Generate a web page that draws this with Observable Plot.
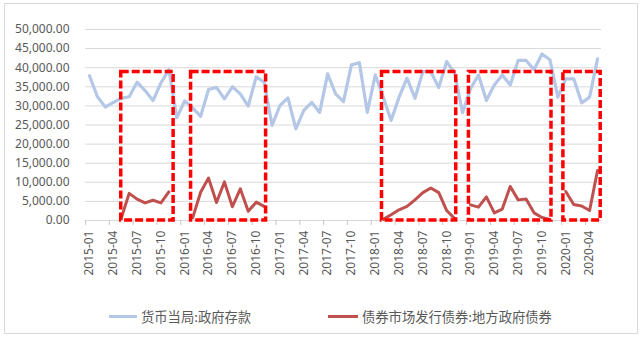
<!DOCTYPE html>
<html><head><meta charset="utf-8">
<script src="https://cdn.jsdelivr.net/npm/d3@7"></script>
<script src="https://cdn.jsdelivr.net/npm/@observablehq/plot@0.6"></script>
<style>
body{margin:0;background:#fff;}
#wrap{position:relative;width:643px;height:337px;overflow:hidden;background:#fff;}
#frame{position:absolute;left:4px;top:3px;width:634px;height:331px;border:1px solid #d9d9d9;box-sizing:border-box;}
#chart{position:absolute;left:0;top:0;}
.leg{position:absolute;top:306px;height:20px;display:flex;align-items:center;font-family:"Noto Sans CJK SC",sans-serif;font-size:13.3px;color:#595959;white-space:nowrap;}
.leg .sw{display:inline-block;height:3px;margin-right:4px;}
</style></head>
<body>
<div id="wrap">
  <div id="frame"></div>
  <div id="chart"></div>
  <div class="leg" style="left:109px"><span class="sw" style="width:28px;background:#b4c7e7"></span>货币当局:政府存款</div>
  <div class="leg" style="left:328px"><span class="sw" style="width:30px;background:#c0504d"></span>债券市场发行债券:地方政府债券</div>
</div>
<script>
const months = [
"2015-01","2015-02","2015-03","2015-04","2015-05","2015-06","2015-07","2015-08","2015-09","2015-10","2015-11","2015-12",
"2016-01","2016-02","2016-03","2016-04","2016-05","2016-06","2016-07","2016-08","2016-09","2016-10","2016-11","2016-12",
"2017-01","2017-02","2017-03","2017-04","2017-05","2017-06","2017-07","2017-08","2017-09","2017-10","2017-11","2017-12",
"2018-01","2018-02","2018-03","2018-04","2018-05","2018-06","2018-07","2018-08","2018-09","2018-10","2018-11","2018-12",
"2019-01","2019-02","2019-03","2019-04","2019-05","2019-06","2019-07","2019-08","2019-09","2019-10","2019-11","2019-12",
"2020-01","2020-02","2020-03","2020-04","2020-05"];

// 货币当局:政府存款
const govDeposits = [
37900,32400,29700,30900,32000,32400,36200,34000,31400,36000,39500,26900,
31300,29500,27250,34300,34850,31850,35000,33150,29950,37600,36200,24900,
30100,32100,24000,28800,30900,28300,38400,33150,31100,40750,41300,28300,
38100,32300,26200,32300,37250,32000,39000,38900,34800,41600,38600,28200,
34500,38100,31400,35500,38100,35500,41900,41900,39500,43600,42100,32300,
37100,37100,30800,32300,42300];

// 债券市场发行债券:地方政府债券
const localBonds = [
null,null,null,null,600,7100,5600,4600,5300,4600,7500,null,
null,700,7400,11100,4700,10100,3600,8300,2400,4800,3700,null,
null,null,null,null,null,null,null,null,null,null,null,null,
null,300,1500,2800,3700,5400,7300,8500,7300,2600,500,null,
4100,3500,6200,2000,3000,8900,5400,5600,2000,800,300,null,
7600,4200,3800,2600,13100];

const yTicks = [0,5000,10000,15000,20000,25000,30000,35000,40000,45000,50000];
const labelIdx = [0,3,6,9,12,15,18,21,24,27,30,33,36,39,42,45,48,51,54,57,60,63];

// highlighted periods (month index, fractional edges) and box top value
const boxStart = [4.0, 12.8, 36.85, 47.8, 59.7];
const boxEnd   = [10.6, 22.25, 46.2, 58.2, 64.4];
const boxTop = 38900;

const data = months.map((m, i) => ({i, m, dep: govDeposits[i], bond: localBonds[i] == null ? NaN : localBonds[i]}));
const boxes = boxStart.map((s, k) => ({x1: s, x2: boxEnd[k]}));
const boundaries = labelIdx.map(i => i - 0.5);

const chart = Plot.plot({
  width: 643, height: 300,
  marginLeft: 85, marginRight: 42, marginTop: 29, marginBottom: 80,
  x: {type: "linear", domain: [-0.5, 64.5]},
  y: {domain: [0, 50000]},
  style: {fontFamily: "'Noto Sans', sans-serif", fontSize: "12px", color: "#595959", background: "transparent", overflow: "visible"},
  marks: [
    Plot.ruleY(yTicks, {stroke: "#d9d9d9", strokeWidth: 1}),
    Plot.axisY({ticks: yTicks, tickSize: 0, tickPadding: 16, tickFormat: d3.format(",.2f"), label: null, fill: "#595959"}),
    Plot.axisX({ticks: boundaries, tickSize: 5, tickFormat: () => "", stroke: "#c8c8c8", label: null}),
    Plot.axisX({ticks: labelIdx, tickSize: 0, tickPadding: 10, tickRotate: -90, tickFormat: i => months[i], label: null, fill: "#595959"}),
    Plot.line(data, {x: "i", y: "dep", stroke: "#b4c7e7", strokeWidth: 3.2, strokeLinejoin: "round"}),
    Plot.line(data, {x: "i", y: "bond", stroke: "#c0504d", strokeWidth: 3, strokeLinejoin: "round"}),
    Plot.rect(boxes, {x1: "x1", x2: "x2", y1: 0, y2: boxTop, fill: "none", stroke: "#ff0000", strokeWidth: 3.5, strokeDasharray: "8,3"})
  ]
});
document.getElementById("chart").appendChild(chart);
</script>
</body></html>
